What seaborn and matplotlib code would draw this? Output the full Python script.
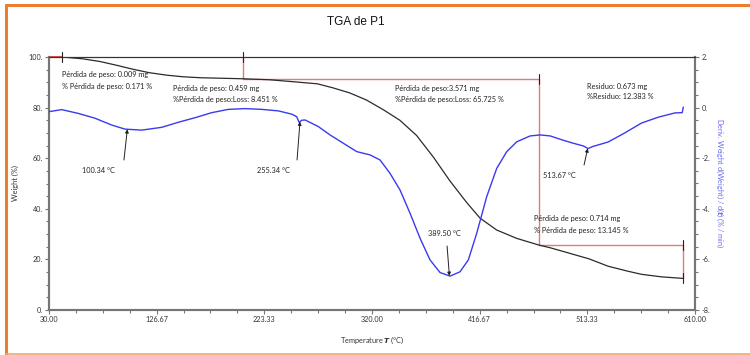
import numpy as np
import pandas as pd
import matplotlib
matplotlib.use("Agg")
import matplotlib.pyplot as plt
import seaborn as sns

# Weight curve (TGA), temperature in °C, weight in %
tga_temp = [30, 41.7, 60, 76, 90, 105, 120, 136, 150, 166, 185, 204, 228, 250,
            271, 285, 300, 315, 330, 345, 360, 375, 390, 405, 417, 432, 450,
            470, 480, 496, 515, 532, 550, 562, 580, 599]
tga_weight = [100.0, 100.0, 99.3, 98.2, 96.8, 95.2, 93.8, 92.8, 92.2, 91.8, 91.6,
              91.4, 91.0, 90.2, 89.4, 87.8, 85.8, 83.0, 79.2, 75.0, 69.0, 60.5,
              51.0, 42.5, 36.3, 31.6, 28.3, 25.65, 24.6, 22.6, 20.2, 17.3, 15.3,
              14.1, 13.1, 12.5]

# Derivative curve (DTG), % / min
dtg_temp = [30, 41.4, 56.3, 71.3, 86.3, 98.2, 113.2, 131.2, 146.1, 161.1, 176.1,
            191, 206, 221, 236, 248, 252.4, 254.5, 257, 260, 271.8, 282.3, 294.3,
            306.3, 318.3, 327.2, 336.2, 345.2, 354.2, 363.2, 372.1, 381.1, 390.1,
            399, 406.5, 414, 423, 432, 441, 450, 462, 471, 480, 491, 500, 510,
            514, 518, 532, 547, 562, 577, 592, 598.5, 599.5]
dtg_value = [-0.16, -0.08, -0.23, -0.42, -0.69, -0.85, -0.89, -0.78, -0.58, -0.40,
             -0.20, -0.07, -0.04, -0.07, -0.13, -0.26, -0.36, -0.58, -0.50, -0.49,
             -0.75, -1.08, -1.41, -1.74, -1.87, -2.07, -2.60, -3.26, -4.18, -5.17,
             -6.02, -6.52, -6.66, -6.49, -6.02, -4.97, -3.52, -2.40, -1.74, -1.35,
             -1.12, -1.08, -1.12, -1.28, -1.40, -1.52, -1.62, -1.54, -1.36, -1.00,
             -0.61, -0.38, -0.21, -0.20, 0.02]

# Mass-loss steps: end temperature of each step and its % loss
step_temp = [41.7, 204, 470, 599]
step_loss_pct = [0.171, 8.451, 65.725, 13.145]
step_loss_mg = [0.009, 0.459, 3.571, 0.714]
residue_mg = 0.673
residue_pct = 12.383

# DTG peak temperatures
peak_temp = [100.34, 255.34, 389.50, 513.67]

x_ticks = [30.00, 126.67, 223.33, 320.00, 416.67, 513.33, 610.00]
y_ticks = [0, 20, 40, 60, 80, 100]
y2_ticks = [-8, -6, -4, -2, 0, 2]

sns.set_style("white")
plt.rcParams["font.family"] = ["Lato", "DejaVu Sans"]

fig = plt.figure(figsize=(7.5, 3.55), dpi=100)
ax = fig.add_axes([49 / 750, 1 - 310 / 355, 646 / 750, 253 / 355])
ax2 = ax.twinx()

tga = pd.DataFrame({"Temperature": tga_temp, "Weight": tga_weight})
dtg = pd.DataFrame({"Temperature": dtg_temp, "Deriv": dtg_value})

sns.lineplot(data=tga, x="Temperature", y="Weight", ax=ax, color="#2b2b2b",
             lw=0.9, sort=False, zorder=3, solid_joinstyle="round")
sns.lineplot(data=dtg, x="Temperature", y="Deriv", ax=ax2, color="#3a3af0",
             lw=1.0, sort=False, zorder=3, solid_joinstyle="round")

# Step construction lines
levels = [100.0]
for p in step_loss_pct:
    levels.append(levels[-1] - p)
red = "#e57878"
ax.plot([30, step_temp[0]], [100, 100], color="#d93030", lw=1.2, zorder=4, clip_on=False)
for i in range(1, len(step_temp)):
    t = step_temp[i]
    top = levels[i]
    bottom = levels[i + 1]
    ax.plot([t, t], [top, bottom], color=red, lw=1.0, zorder=2, clip_on=False)
    if i < len(step_temp) - 1:
        ax.plot([t, step_temp[i + 1]], [bottom, bottom], color=red, lw=1.0, zorder=2)

# Small black step markers
marks = [(step_temp[0], 100), (step_temp[1], 100), (step_temp[2], levels[2]),
         (step_temp[3], levels[3]), (step_temp[3], levels[4])]
for t, w in marks:
    ax.plot([t, t], [w - 2, w + 2], color="#222222", lw=0.8, zorder=5, clip_on=False)

# Step texts
fs = 5.3
txt = dict(fontsize=fs, color="#222222", va="center", ha="left")
ax.text(41.7, 92.9, f"Pérdida de peso: {step_loss_mg[0]:.3f} mg", **txt)
ax.text(41.7, 88.5, f"% Pérdida de peso: {step_loss_pct[0]:.3f} %", **txt)
ax.text(141.4, 87.4, f"Pérdida de peso: {step_loss_mg[1]:.3f} mg", **txt)
ax.text(141.4, 83.3, f"%Pérdida de peso:Loss: {step_loss_pct[1]:.3f} %", **txt)
ax.text(340.7, 87.4, f"Pérdida de peso:{step_loss_mg[2]:.3f} mg", **txt)
ax.text(340.7, 83.1, f"%Pérdida de peso:Loss: {step_loss_pct[2]:.3f} %", **txt)
ax.text(513.0, 88.5, f"Residuo: {residue_mg:.3f} mg", **txt)
ax.text(513.0, 84.2, f"%Residuo: {residue_pct:.3f} %", **txt)
ax.text(465.5, 36.0, f"Pérdida de peso: {step_loss_mg[3]:.3f} mg", **txt)
ax.text(465.5, 31.6, f"% Pérdida de peso: {step_loss_pct[3]:.3f} %", **txt)

# Peak labels with arrows (DTG axis)
peak_tip = [np.interp(t, dtg_temp, dtg_value) for t in peak_temp]
tails = [(97.3, -2.07), (252.7, -2.07), (387.4, -5.47), (510.4, -2.27)]
label_pos = [(59.6, -2.47), (216.8, -2.47), (370.0, -4.96), (473.6, -2.70)]
for t, tip, tail, lp in zip(peak_temp, peak_tip, tails, label_pos):
    ax2.annotate("", xy=(t, tip), xytext=tail,
                 arrowprops=dict(arrowstyle="-|>", color="#222222", lw=0.7,
                                 mutation_scale=5, shrinkA=0, shrinkB=0), zorder=5)
    ax2.text(lp[0], lp[1], f"{t:.2f} °C", fontsize=fs, color="#222222",
             va="center", ha="left")

# Axes ranges and ticks
ax.set_xlim(30, 610)
ax.set_ylim(0, 100)
ax2.set_ylim(-8, 2)
ax.set_xticks(x_ticks)
ax.set_xticklabels([f"{v:.2f}" for v in x_ticks])
ax.set_yticks(y_ticks)
ax.set_yticklabels([f"{v}." for v in y_ticks])
ax2.set_yticks(y2_ticks)
ax2.set_yticklabels([f"{v}." for v in y2_ticks])
ax.set_xticks(np.arange(30, 610.01, 96.6667 / 4), minor=True)
ax.set_yticks(np.arange(0, 100.01, 5), minor=True)
ax2.set_yticks(np.arange(-8, 2.01, 0.5), minor=True)

spine_col = "#767676"
for a in (ax, ax2):
    for s in ("left", "right", "bottom"):
        a.spines[s].set_color(spine_col)
        a.spines[s].set_linewidth(1.5)
    a.spines["top"].set_color("#333333")
    a.spines["top"].set_linewidth(0.8)
    a.tick_params(which="major", direction="out", length=3, width=0.8,
                  color=spine_col, labelsize=5.2, labelcolor="#333333", pad=1.5)
    a.tick_params(which="minor", direction="out", length=2, width=0.8, color=spine_col)
ax.tick_params(axis="y", which="both", left=True, right=False)
ax.tick_params(axis="x", which="both", bottom=True, top=False)
ax2.tick_params(axis="y", which="both", right=True, left=False)

ax.set_xlabel("Temperature $\\boldsymbol{T}$ (°C)", fontsize=5.3, color="#333333",
              labelpad=8)
ax.set_ylabel("Weight (%)", fontsize=5.3, color="#333333", labelpad=7)
ax2.set_ylabel("Deriv. Weight d(Weight) / d($\\boldsymbol{t}$) (% / min)",
               fontsize=5.3, color="#6a6af5", rotation=270, labelpad=11)

fig.text(356 / 750, 1 - 22 / 355, "TGA de P1", fontsize=8.5, ha="center",
         va="center", family="Liberation Sans", color="#111111")

# Frame around the figure
orange = "#ed7d31"
fig.add_artist(plt.Line2D([6 / 750, 1], [1 - 5 / 355, 1 - 5 / 355], color=orange,
                          lw=2.2, transform=fig.transFigure))
fig.add_artist(plt.Line2D([6 / 750, 6 / 750], [1 - 5 / 355, 1 - 354 / 355],
                          color=orange, lw=2.2, transform=fig.transFigure))
fig.add_artist(plt.Line2D([6 / 750, 1], [1 - 353.5 / 355, 1 - 353.5 / 355],
                          color="#f4a470", lw=1.2, transform=fig.transFigure))

fig.savefig("out.png", dpi=100)
